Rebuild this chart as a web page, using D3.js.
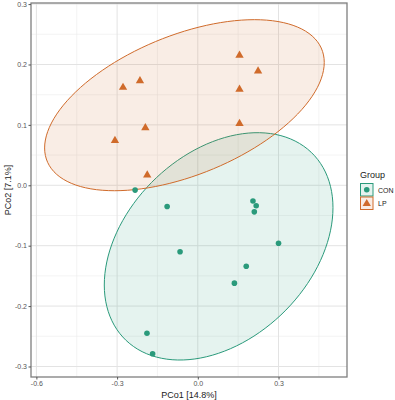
<!DOCTYPE html>
<html>
<head>
<meta charset="utf-8">
<script src="https://cdn.jsdelivr.net/npm/d3@7"></script>
<style>
  body { margin: 0; background: #fff; }
  svg { display: block; font-family: "Liberation Sans", Arial, sans-serif; }
</style>
</head>
<body>
<div id="chart"></div>
<script>
// CON samples
const conX = [-0.233, -0.114, -0.066, -0.189, -0.168, 0.205, 0.217, 0.210, 0.300, 0.180, 0.136];
const conY = [-0.008, -0.035, -0.110, -0.245, -0.279, -0.026, -0.034, -0.044, -0.096, -0.134, -0.162];
// LP samples
const lpX = [-0.278, -0.215, -0.195, -0.308, -0.188, 0.155, 0.224, 0.155, 0.155];
const lpY = [0.162, 0.173, 0.095, 0.074, 0.017, 0.215, 0.189, 0.159, 0.102];

const groups = ['CON', 'LP'];
// 95% ellipses: centre, half-widths and correlation
const ellCx = [0.0774, -0.0497];
const ellCy = [-0.1011, 0.1326];
const ellRx = [0.425, 0.5197];
const ellRy = [0.1882, 0.1416];
const ellR = [0.34, 0.5];

const xTicks = [-0.6, -0.3, 0.0, 0.3];
const xMinor = [-0.45, -0.15, 0.15, 0.45];
const yTicks = [-0.3, -0.2, -0.1, 0.0, 0.1, 0.2, 0.3];
const yMinor = [-0.25, -0.15, -0.05, 0.05, 0.15, 0.25];

const colors = ['#2a9a7b', '#d06b2b'];

const W = 395, H = 400;
const panel = {left: 31, right: 347, top: 3, bottom: 377};

const svg = d3.select('#chart').append('svg')
    .attr('width', W)
    .attr('height', H);

const x = d3.scaleLinear().domain([-0.62, 0.5545]).range([panel.left, panel.right]);
const y = d3.scaleLinear().domain([-0.3174, 0.3018]).range([panel.bottom, panel.top]);

const grid = svg.append('g');
grid.selectAll('.xminor').data(xMinor).enter().append('line')
    .attr('x1', d => x(d)).attr('x2', d => x(d))
    .attr('y1', panel.top).attr('y2', panel.bottom)
    .attr('stroke', '#ececec').attr('stroke-width', 0.6);
grid.selectAll('.yminor').data(yMinor).enter().append('line')
    .attr('y1', d => y(d)).attr('y2', d => y(d))
    .attr('x1', panel.left).attr('x2', panel.right)
    .attr('stroke', '#ececec').attr('stroke-width', 0.6);
grid.selectAll('.xmajor').data(xTicks).enter().append('line')
    .attr('x1', d => x(d)).attr('x2', d => x(d))
    .attr('y1', panel.top).attr('y2', panel.bottom)
    .attr('stroke', '#e3e3e3').attr('stroke-width', 1);
grid.selectAll('.ymajor').data(yTicks).enter().append('line')
    .attr('y1', d => y(d)).attr('y2', d => y(d))
    .attr('x1', panel.left).attr('x2', panel.right)
    .attr('stroke', '#e3e3e3').attr('stroke-width', 1);

// ellipses
const ts = d3.range(0, 361, 3).map(a => a * Math.PI / 180);
const line = d3.line().x(d => x(d[0])).y(d => y(d[1]));
groups.forEach((g, i) => {
  const s = Math.sqrt(1 - ellR[i] * ellR[i]);
  const pts = ts.map(t => [
    ellCx[i] + ellRx[i] * Math.cos(t),
    ellCy[i] + ellRy[i] * (ellR[i] * Math.cos(t) - s * Math.sin(t))
  ]);
  svg.append('path')
      .attr('d', line(pts) + 'Z')
      .attr('fill', colors[i])
      .attr('fill-opacity', 0.12)
      .attr('stroke', colors[i])
      .attr('stroke-width', 1);
});

// points
const con = conX.map((v, i) => [v, conY[i]]);
const lp = lpX.map((v, i) => [v, lpY[i]]);
svg.append('g').selectAll('circle').data(con).enter().append('circle')
    .attr('cx', d => x(d[0]))
    .attr('cy', d => y(d[1]))
    .attr('r', 2.8)
    .attr('fill', colors[0]);
const tri = d3.symbol().type(d3.symbolTriangle).size(30);
svg.append('g').selectAll('path').data(lp).enter().append('path')
    .attr('d', tri)
    .attr('transform', d => `translate(${x(d[0])},${y(d[1])})`)
    .attr('fill', colors[1]);

// panel border
svg.append('rect')
    .attr('x', panel.left).attr('y', panel.top)
    .attr('width', panel.right - panel.left)
    .attr('height', panel.bottom - panel.top)
    .attr('fill', 'none')
    .attr('stroke', '#7f7f7f')
    .attr('stroke-width', 1.3);

// axes
const fmt = d => d3.format('.1f')(d).replace('−', '-');
const xAxis = svg.append('g')
    .attr('transform', `translate(0,${panel.bottom})`)
    .call(d3.axisBottom(x).tickValues(xTicks).tickSize(2.5).tickPadding(1.5).tickFormat(fmt));
const yAxis = svg.append('g')
    .attr('transform', `translate(${panel.left},0)`)
    .call(d3.axisLeft(y).tickValues(yTicks).tickSize(2.5).tickPadding(1.5).tickFormat(fmt));
[xAxis, yAxis].forEach(a => {
  a.select('.domain').remove();
  a.selectAll('.tick line').attr('stroke', '#555');
  a.selectAll('.tick text').attr('fill', '#555').attr('font-size', 7)
      .attr('font-family', '"Liberation Sans", Arial, sans-serif');
});

svg.append('text')
    .attr('x', (panel.left + panel.right) / 2)
    .attr('y', 397.5)
    .attr('text-anchor', 'middle')
    .attr('font-size', 9)
    .attr('fill', '#222')
    .text('PCo1 [14.8%]');
svg.append('text')
    .attr('transform', `translate(11,${(panel.top + panel.bottom) / 2}) rotate(-90)`)
    .attr('text-anchor', 'middle')
    .attr('font-size', 9)
    .attr('fill', '#222')
    .text('PCo2 [7.1%]');

// legend
const legend = svg.append('g').attr('transform', 'translate(360,170)');
legend.append('text')
    .attr('x', 0).attr('y', 8)
    .attr('font-size', 9)
    .attr('fill', '#222')
    .text('Group');
groups.forEach((g, i) => {
  const row = legend.append('g').attr('transform', `translate(0,${13 + i * 13.5})`);
  row.append('rect')
      .attr('x', 0.5).attr('y', 0.5).attr('width', 12.5).attr('height', 12.5)
      .attr('fill', colors[i]).attr('fill-opacity', 0.12)
      .attr('stroke', colors[i]).attr('stroke-width', 1);
  if (i === 0) {
    row.append('circle').attr('cx', 6.75).attr('cy', 6.75).attr('r', 2.8).attr('fill', colors[i]);
  } else {
    row.append('path').attr('d', tri).attr('transform', 'translate(6.75,7.2)').attr('fill', colors[i]);
  }
  row.append('text')
      .attr('x', 18).attr('y', 9.5)
      .attr('font-size', 7)
      .attr('fill', '#222')
      .text(g);
});
</script>
</body>
</html>
